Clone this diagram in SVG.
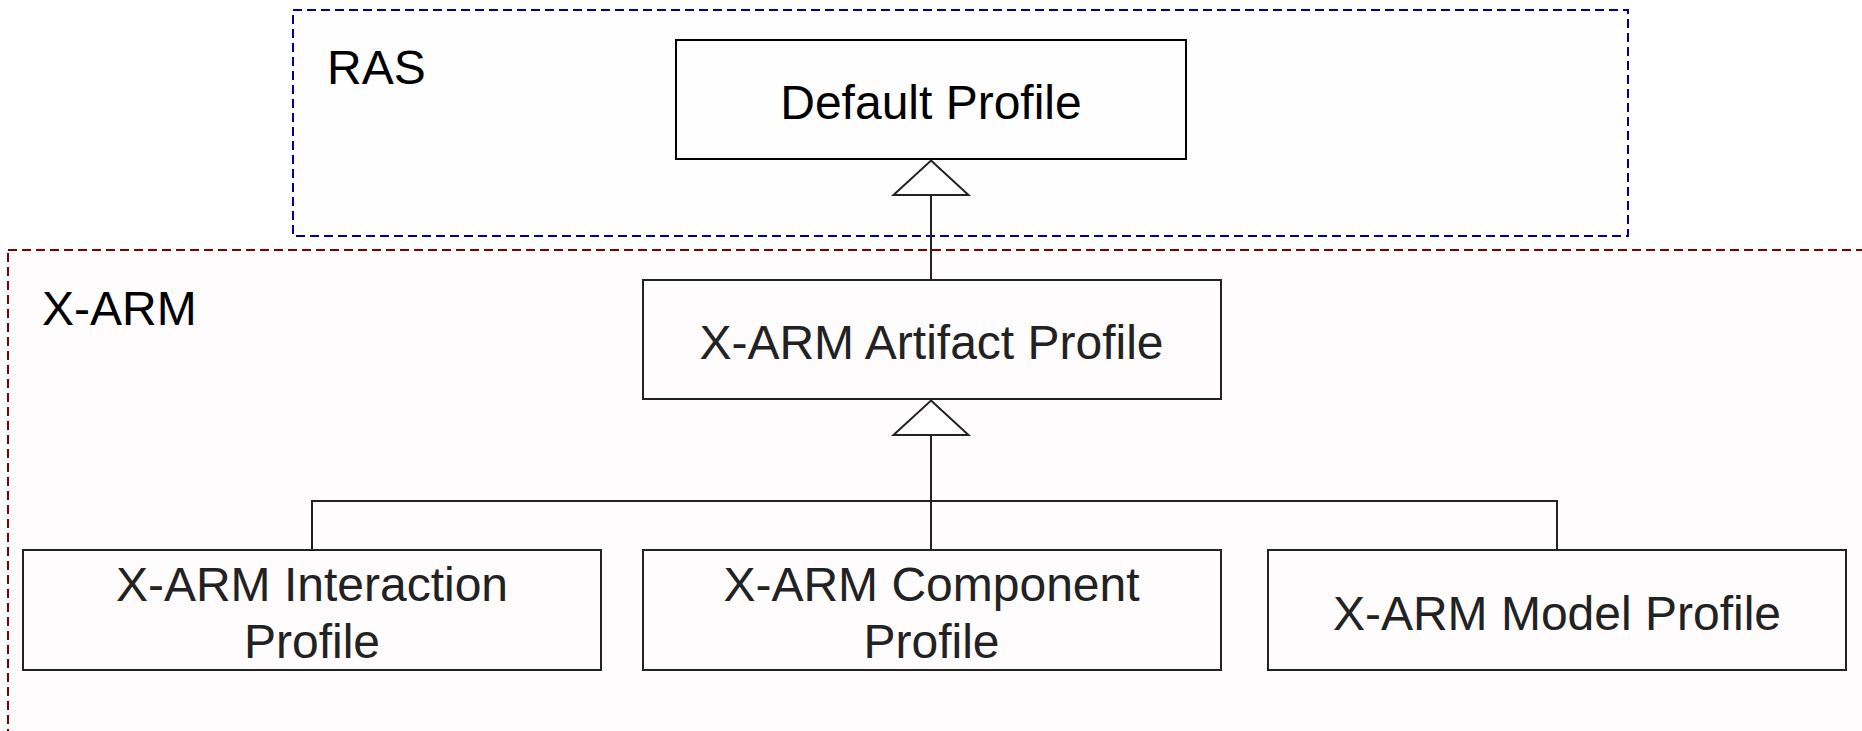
<svg xmlns="http://www.w3.org/2000/svg" width="1862" height="731" viewBox="0 0 1862 731">
  <style>
    .pkg { stroke-width: 2; stroke-dasharray: 9 5; }
    .ras { fill: #fefefe; stroke: #000099; }
    .xarm { fill: #fefcfd; stroke: #800000; }
    .box { fill: none; stroke: #222222; stroke-width: 2; }
    .box.top { stroke: #000000; }
    .label { font-family: "Liberation Sans", Arial, sans-serif; font-size: 48px; fill: #000000; }
    .name { font-family: "Liberation Sans", Arial, sans-serif; font-size: 48px; fill: #222222; text-anchor: middle; }
    .name.top { fill: #000000; }
    .edge { fill: none; stroke: #222222; stroke-width: 2; }
    .head { fill: #ffffff; stroke: #222222; stroke-width: 2; stroke-linejoin: miter; }
  </style>

  <rect x="0" y="0" width="1862" height="731" fill="#ffffff"/>

  <!-- packages -->
  <g id="pkg-ras">
    <rect class="pkg ras" x="293" y="10" width="1335" height="226"/>
    <text class="label" x="327" y="84">RAS</text>
  </g>
  <g id="pkg-xarm">
    <rect class="pkg xarm" x="8" y="250" width="1880" height="520"/>
    <text class="label" x="42" y="325">X-ARM</text>
  </g>

  <!-- profiles -->
  <g id="default-profile">
    <rect class="box top" x="676" y="40" width="510" height="119"/>
    <text class="name top" x="931" y="119">Default Profile</text>
  </g>
  <g id="artifact-profile">
    <rect class="box" x="643" y="280" width="578" height="119"/>
    <text class="name" x="931.5" y="359">X-ARM Artifact Profile</text>
  </g>
  <g id="interaction-profile">
    <rect class="box" x="23" y="550" width="578" height="120"/>
    <text class="name" x="312" y="601">X-ARM Interaction</text>
    <text class="name" x="312" y="658">Profile</text>
  </g>
  <g id="component-profile">
    <rect class="box" x="643" y="550" width="578" height="120"/>
    <text class="name" x="931.5" y="601">X-ARM Component</text>
    <text class="name" x="931.5" y="658">Profile</text>
  </g>
  <g id="model-profile">
    <rect class="box" x="1268" y="550" width="578" height="120"/>
    <text class="name" x="1557" y="630">X-ARM Model Profile</text>
  </g>

  <!-- generalization connectors -->
  <g id="connectors">
    <path class="edge" d="M931 280 V195"/>
    <polygon class="head" points="931,160.5 968.5,195 893.5,195"/>
    <path class="edge" d="M931 550 V435"/>
    <path class="edge" d="M312 550 V501 H1557 V550"/>
    <polygon class="head" points="931,400.5 968.5,435 893.5,435"/>
  </g>
</svg>
